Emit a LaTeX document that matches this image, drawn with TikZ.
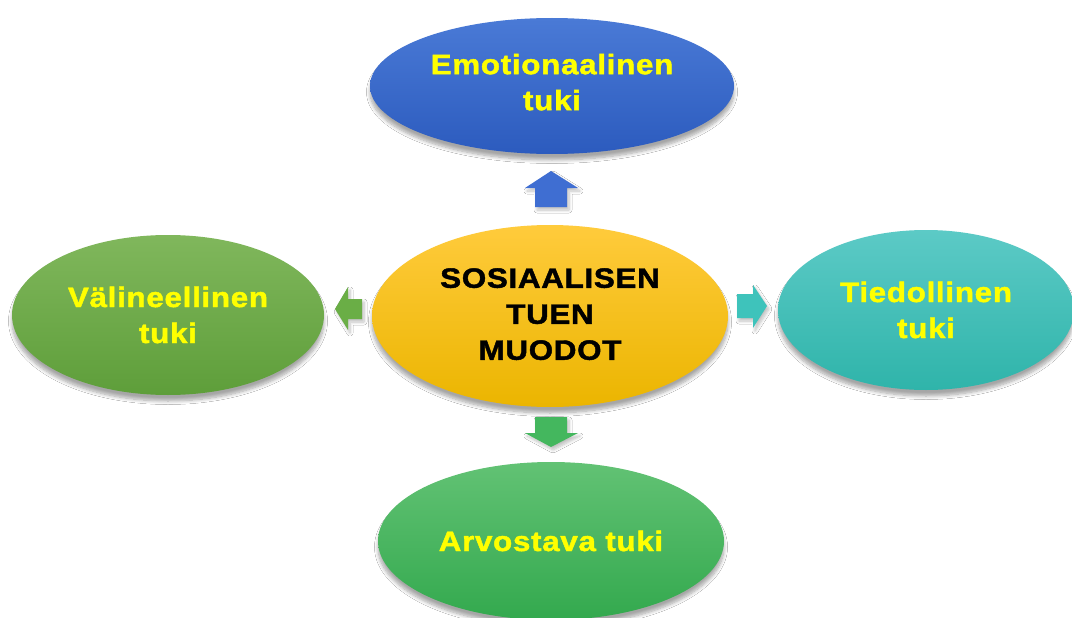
\documentclass[tikz,border=0pt]{standalone}
\usepackage{fontspec}
\setmainfont{Liberation Sans}
\newfontfamily\labelfont[FakeStretch=1.12,FakeBold=1.6,LetterSpace=2.5]{Liberation Sans Bold}
\usetikzlibrary{shapes.geometric,shadows.blur}
\definecolor{txtyellow}{HTML}{FFFF00}
\definecolor{blueT}{HTML}{4A7AD6}\definecolor{blueB}{HTML}{2C5BBE}
\definecolor{yelT}{HTML}{FFCB3C}\definecolor{yelB}{HTML}{EBB500}
\definecolor{lgrT}{HTML}{80B75C}\definecolor{lgrB}{HTML}{5E9E3A}
\definecolor{tealT}{HTML}{5CCAC6}\definecolor{tealB}{HTML}{2FB4AA}
\definecolor{grnT}{HTML}{62C274}\definecolor{grnB}{HTML}{33A94E}
\definecolor{arrBlue}{HTML}{3F6ED2}
\definecolor{arrGreen}{HTML}{44B75E}
\definecolor{arrLgreen}{HTML}{6AAE46}
\definecolor{arrTeal}{HTML}{3EC3BB}
\tikzset{
  bubble/.style n args={2}{ellipse, inner sep=0pt, top color=#1, bottom color=#2,
    blur shadow={shadow xshift=0pt, shadow yshift=-6pt, shadow blur radius=3.5pt,
      shadow blur steps=8, shadow opacity=35},
    align=center, font=\labelfont\fontsize{28}{36}\selectfont, text=txtyellow},
  blockarrow/.style={draw=none, fill=#1,
    blur shadow={shadow xshift=2pt, shadow yshift=-3pt, shadow blur radius=3pt,
      shadow blur steps=6, shadow opacity=25}},
}
\begin{document}
\begin{tikzpicture}[x=1pt,y=-1pt]
\useasboundingbox (0,0) rectangle (1072,618);
\fill[white] (0,0) rectangle (1072,618);

% outer forms
\node[bubble={blueT}{blueB}, minimum width=364pt, minimum height=136pt] (emo) at (552,86)
  {Emotionaalinen\\tuki\\[-28pt]};
\node[bubble={lgrT}{lgrB}, minimum width=312pt, minimum height=160pt] (val) at (168,315)
  {Välineellinen\\tuki};
\node[bubble={tealT}{tealB}, minimum width=296pt, minimum height=160pt] (tie) at (926,310)
  {Tiedollinen\\tuki};
\node[bubble={grnT}{grnB}, minimum width=346pt, minimum height=158pt] (arv) at (551,541)
  {Arvostava tuki};

% centre
\node[bubble={yelT}{yelB}, minimum width=356pt, minimum height=182pt, text=black] (mid) at (550,316)
  {SOSIAALISEN\\TUEN\\MUODOT\\[-32pt]};

% block arrows pointing outwards
\path[blockarrow=arrBlue] (551,171) -- (578,188) -- (567,188) -- (567,207)
  -- (535,207) -- (535,188) -- (525,188) -- cycle;
\path[blockarrow=arrGreen] (551,447) -- (578,433) -- (567,433) -- (567,417)
  -- (535,417) -- (535,433) -- (525,433) -- cycle;
\path[blockarrow=arrLgreen] (335,309) -- (348,287) -- (348,299) -- (362,299)
  -- (362,319) -- (348,319) -- (348,330) -- cycle;
\path[blockarrow=arrTeal] (767,306) -- (753,285) -- (753,294) -- (737,294)
  -- (737,318) -- (753,318) -- (753,328) -- cycle;
\end{tikzpicture}
\end{document}
